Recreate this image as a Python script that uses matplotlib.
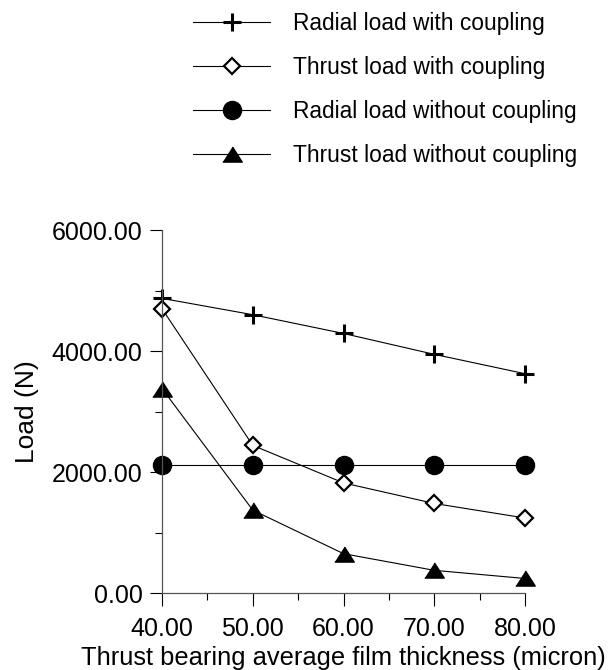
import matplotlib
matplotlib.use('Agg')
import matplotlib.pyplot as plt
from matplotlib.ticker import MultipleLocator, FormatStrFormatter

plt.rcParams['font.family'] = ['Liberation Sans', 'DejaVu Sans']

# data
thickness = [40, 50, 60, 70, 80]
radial_coupled = [4870, 4600, 4290, 3945, 3625]
thrust_coupled = [4700, 2440, 1820, 1480, 1240]
radial_uncoupled = [2110, 2110, 2110, 2110, 2110]
thrust_uncoupled = [3380, 1370, 650, 375, 240]

labels = ['Radial load with coupling', 'Thrust load with coupling',
          'Radial load without coupling', 'Thrust load without coupling']

tri = [(-1, -0.78), (1, -0.78), (0, 0.78)]

fig = plt.figure(figsize=(6.1, 6.7), dpi=100)
ax = fig.add_axes([0.2656, 0.1149, 0.5951, 0.5418])

lw = 0.8
ax.plot(thickness, radial_coupled, color='black', lw=lw, marker='+', ms=13, mew=2.2, label=labels[0])
ax.plot(thickness, thrust_coupled, color='black', lw=lw, marker='D', ms=8.5, mew=1.6,
        mfc='white', mec='black', label=labels[1])
ax.plot(thickness, radial_uncoupled, color='black', lw=lw, marker='o', ms=13, label=labels[2])
ax.plot(thickness, thrust_uncoupled, color='black', lw=lw, marker=tri, ms=14, label=labels[3])

ax.set_xlim(40, 80)
ax.set_ylim(0, 6000)
ax.xaxis.set_major_locator(MultipleLocator(10))
ax.xaxis.set_minor_locator(MultipleLocator(5))
ax.yaxis.set_major_locator(MultipleLocator(2000))
ax.yaxis.set_minor_locator(MultipleLocator(1000))
ax.xaxis.set_major_formatter(FormatStrFormatter('%.2f'))
ax.yaxis.set_major_formatter(FormatStrFormatter('%.2f'))

for s in ['top', 'right']:
    ax.spines[s].set_visible(False)
for s in ['left', 'bottom']:
    ax.spines[s].set_linewidth(0.9)
    ax.spines[s].set_color('#555555')

ax.tick_params(which='major', direction='out', length=9, width=0.8, labelsize=18, pad=5)
ax.tick_params(axis='x', which='major', pad=8)
ax.tick_params(which='minor', direction='out', length=5, width=0.8)
ax.set_xlabel('Thrust bearing average film thickness (micron)', fontsize=18.4, labelpad=4)
ax.set_ylabel('Load (N)', fontsize=19, labelpad=9)

for ln in ax.lines:
    ln.set_clip_on(False)

fig.legend(loc='upper left', bbox_to_anchor=(193 / 610, 1 - 12 / 670), frameon=False,
           fontsize=16.4, handlelength=3.4, handletextpad=1.0, labelspacing=0.92,
           borderpad=0, borderaxespad=0)

fig.savefig('out.png', dpi=100)
